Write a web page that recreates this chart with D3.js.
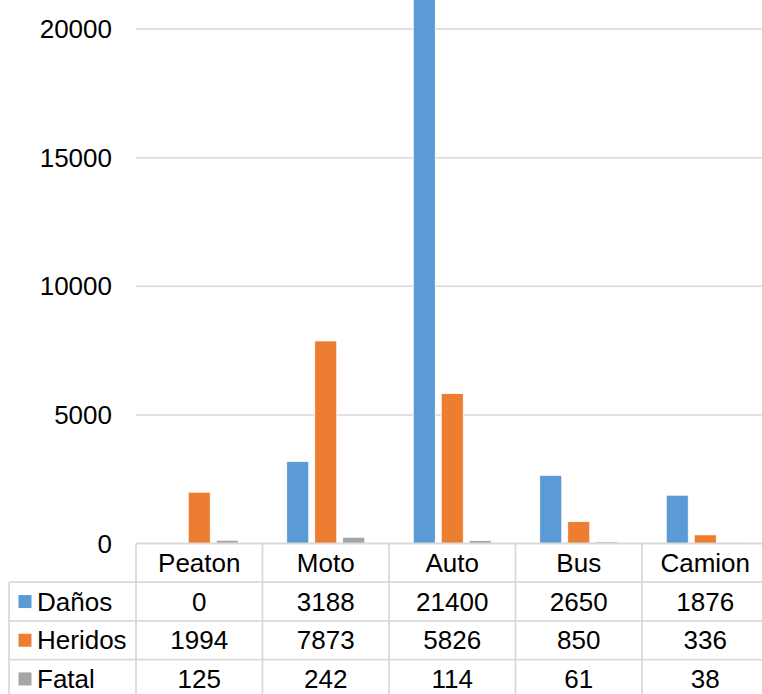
<!DOCTYPE html>
<html>
<head>
<meta charset="utf-8">
<script src="https://cdn.jsdelivr.net/npm/d3@7"></script>
<style>
  html, body { margin: 0; padding: 0; background: #fff; }
  svg { display: block; }
  text { font-family: "Liberation Sans", Arial, sans-serif; fill: #000; }
</style>
</head>
<body>
<script>
// Accident counts by vehicle type
const categories = ["Peaton", "Moto", "Auto", "Bus", "Camion"];
const seriesNames = ["Daños", "Heridos", "Fatal"];
const danos   = [0, 3188, 21400, 2650, 1876];
const heridos = [1994, 7873, 5826, 850, 336];
const fatal   = [125, 242, 114, 61, 38];
const yTicks  = [0, 5000, 10000, 15000, 20000];
const colors  = ["#5B9BD5", "#ED7D31", "#A5A5A5"];

const values = [danos, heridos, fatal];

const W = 762, H = 694;
const fontSize = 26;
const gridColor = "#d9d9d9";

const svg = d3.select("body").append("svg")
  .attr("width", W).attr("height", H);

// Scales
const plotLeft = 136, plotRight = 768.5;
const x = d3.scaleBand().domain(categories).range([plotLeft, plotRight]).padding(0);
const groupPad = 24.25;
const x1 = d3.scaleBand().domain(seriesNames)
  .range([groupPad, x.bandwidth() - groupPad])
  .paddingInner(0.214).paddingOuter(0);
const y = d3.scaleLinear().domain([0, 20000]).range([543.5, 29]);

// Gridlines
svg.append("g").selectAll("line").data(yTicks.filter(d => d > 0)).join("line")
  .attr("x1", plotLeft).attr("x2", W)
  .attr("y1", d => y(d)).attr("y2", d => y(d))
  .attr("stroke", gridColor).attr("stroke-width", 1.5);

// Y axis labels
svg.append("g").selectAll("text").data(yTicks).join("text")
  .attr("x", 112).attr("y", d => y(d))
  .attr("text-anchor", "end").attr("dy", "0.35em")
  .style("font-size", fontSize + "px")
  .text(d => d);

// Bars
const barData = [];
seriesNames.forEach((s, si) => {
  categories.forEach((c, ci) => {
    barData.push({ series: s, cat: c, value: values[si][ci], color: colors[si] });
  });
});
svg.append("g").selectAll("rect").data(barData).join("rect")
  .attr("x", d => x(d.cat) + x1(d.series))
  .attr("width", x1.bandwidth())
  .attr("y", d => y(d.value))
  .attr("height", d => y(0) - y(d.value))
  .attr("fill", d => d.color)
  .attr("stroke", "#fff").attr("stroke-width", 0.75);

// Data table
const rowH = 38.7;
const headerTop = y(0);
const tableLeft = 9;
const table = svg.append("g");

// horizontal lines
const rowLines = [0, 1, 2, 3, 4].map(i => headerTop + i * rowH);
table.selectAll("line.h").data(rowLines).join("line")
  .attr("class", "h")
  .attr("x1", (d, i) => i === 0 ? plotLeft : tableLeft)
  .attr("x2", W)
  .attr("y1", d => d).attr("y2", d => d)
  .attr("stroke", gridColor).attr("stroke-width", 1.8);

// vertical lines
const colEdges = categories.map(c => x(c)).concat([plotRight]);
table.selectAll("line.v").data(colEdges).join("line")
  .attr("class", "v")
  .attr("x1", d => d).attr("x2", d => d)
  .attr("y1", headerTop).attr("y2", headerTop + 4 * rowH)
  .attr("stroke", gridColor).attr("stroke-width", 1.8);
table.append("line")
  .attr("x1", tableLeft).attr("x2", tableLeft)
  .attr("y1", headerTop + rowH).attr("y2", headerTop + 4 * rowH)
  .attr("stroke", gridColor).attr("stroke-width", 1.8);

// category header
table.selectAll("text.cat").data(categories).join("text")
  .attr("class", "cat")
  .attr("x", d => x(d) + x.bandwidth() / 2)
  .attr("y", headerTop + rowH / 2)
  .attr("dy", "0.35em").attr("text-anchor", "middle")
  .style("font-size", fontSize + "px")
  .text(d => d);

// series rows
seriesNames.forEach((s, si) => {
  const rowMid = headerTop + rowH * (si + 1) + rowH / 2;
  table.append("rect")
    .attr("x", 18.5).attr("y", rowMid - 6.5)
    .attr("width", 13).attr("height", 13)
    .attr("fill", colors[si]);
  table.append("text")
    .attr("x", 37).attr("y", rowMid).attr("dy", "0.35em")
    .style("font-size", fontSize + "px")
    .text(s);
  table.selectAll("text.v" + si).data(values[si]).join("text")
    .attr("class", "v" + si)
    .attr("x", (d, i) => x(categories[i]) + x.bandwidth() / 2)
    .attr("y", rowMid).attr("dy", "0.35em").attr("text-anchor", "middle")
    .style("font-size", fontSize + "px")
    .text(d => d);
});
</script>
</body>
</html>
